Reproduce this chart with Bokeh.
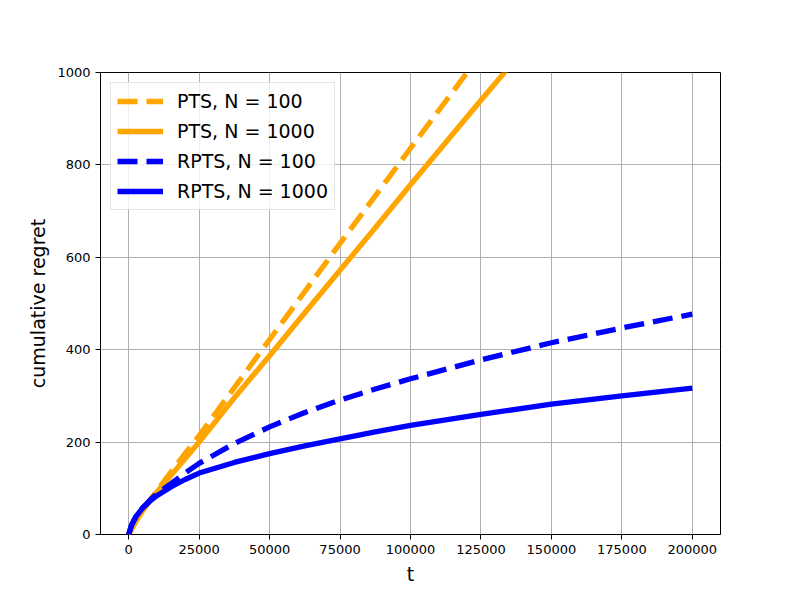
from bokeh.plotting import figure
from bokeh.models import Range1d, FixedTicker, NumeralTickFormatter, Legend, LegendItem
from bokeh.embed import file_html
from bokeh.resources import INLINE

# data
t = [0, 1000, 2500, 5000, 7500, 10000, 15000, 20000, 25000, 37500, 50000, 62500,
     75000, 87500, 100000, 125000, 150000, 175000, 200000]
pts_100 = [0, 12, 28, 52, 74, 95, 135, 175, 214, 318, 422, 526,
           630, 733, 836, 1040, 1245, 1450, 1655]
pts_1000 = [0, 12, 28, 52, 72, 92, 128, 164, 200, 296, 387, 480,
            572, 664, 757, 940, 1120, 1300, 1480]
rpts_100 = [0, 20, 38, 58, 74, 88, 110, 133, 154, 197, 233, 264,
            291, 315, 337, 378, 415, 447, 477]
rpts_1000 = [0, 20, 38, 58, 72, 84, 103, 119, 133, 156, 175, 192,
             207, 222, 236, 260, 282, 300, 317]

x_ticks = [0, 25000, 50000, 75000, 100000, 125000, 150000, 175000, 200000]
y_ticks = [0, 200, 400, 600, 800, 1000]

FONT = "DejaVu Sans"

p = figure(output_backend="svg", toolbar_location=None,
           frame_width=620, frame_height=462,
           min_border_left=100, min_border_right=80, min_border_top=72, min_border_bottom=66,
           x_range=Range1d(-10000, 210000), y_range=Range1d(0, 1000))

p.outline_line_color = "black"
p.outline_line_width = 1
p.background_fill_color = "white"
p.border_fill_color = "white"

for ax in (p.xaxis[0], p.yaxis[0]):
    ax.axis_line_color = None
    ax.major_tick_in = 0
    ax.major_tick_out = 5
    ax.minor_tick_line_color = None
    ax.major_tick_line_color = "black"
    ax.major_label_text_font = FONT
    ax.major_label_text_font_size = "13px"
    ax.major_label_text_color = "black"
    ax.axis_label_text_font = FONT
    ax.axis_label_text_font_size = "19px"
    ax.axis_label_text_font_style = "normal"
    ax.axis_label_text_color = "black"

p.xaxis.ticker = FixedTicker(ticks=x_ticks)
p.yaxis.ticker = FixedTicker(ticks=y_ticks)
p.xaxis.formatter = NumeralTickFormatter(format="0")
p.yaxis.formatter = NumeralTickFormatter(format="0")
p.xaxis.axis_label = "t"
p.yaxis.axis_label = "cumulative regret"
p.xaxis.axis_label_standoff = 6
p.yaxis.axis_label_standoff = 5

p.grid.grid_line_color = "#b0b0b0"
p.grid.grid_line_width = 1
p.xgrid.ticker = FixedTicker(ticks=x_ticks)
p.ygrid.ticker = FixedTicker(ticks=y_ticks)

LW = 5.3
DASH = "20 9"
r1 = p.line(t, pts_100, line_color="orange", line_width=LW, line_dash=DASH)
r2 = p.line(t, pts_1000, line_color="orange", line_width=LW)
r3 = p.line(t, rpts_100, line_color="blue", line_width=LW, line_dash=DASH)
r4 = p.line(t, rpts_1000, line_color="blue", line_width=LW)

legend = Legend(items=[
    LegendItem(label="PTS, N = 100", renderers=[r1]),
    LegendItem(label="PTS, N = 1000", renderers=[r2]),
    LegendItem(label="RPTS, N = 100", renderers=[r3]),
    LegendItem(label="RPTS, N = 1000", renderers=[r4]),
], location="top_left")
legend.margin = 10
legend.padding = 6
legend.spacing = 6
legend.label_height = 24
legend.glyph_height = 24
legend.glyph_width = 46
legend.label_standoff = 14
legend.label_text_font = FONT
legend.label_text_font_size = "19px"
legend.label_text_color = "black"
legend.border_line_color = "#cccccc"
legend.border_line_width = 1
legend.background_fill_alpha = 0.8
p.add_layout(legend)

open("out.html", "w").write(file_html(p, INLINE))
